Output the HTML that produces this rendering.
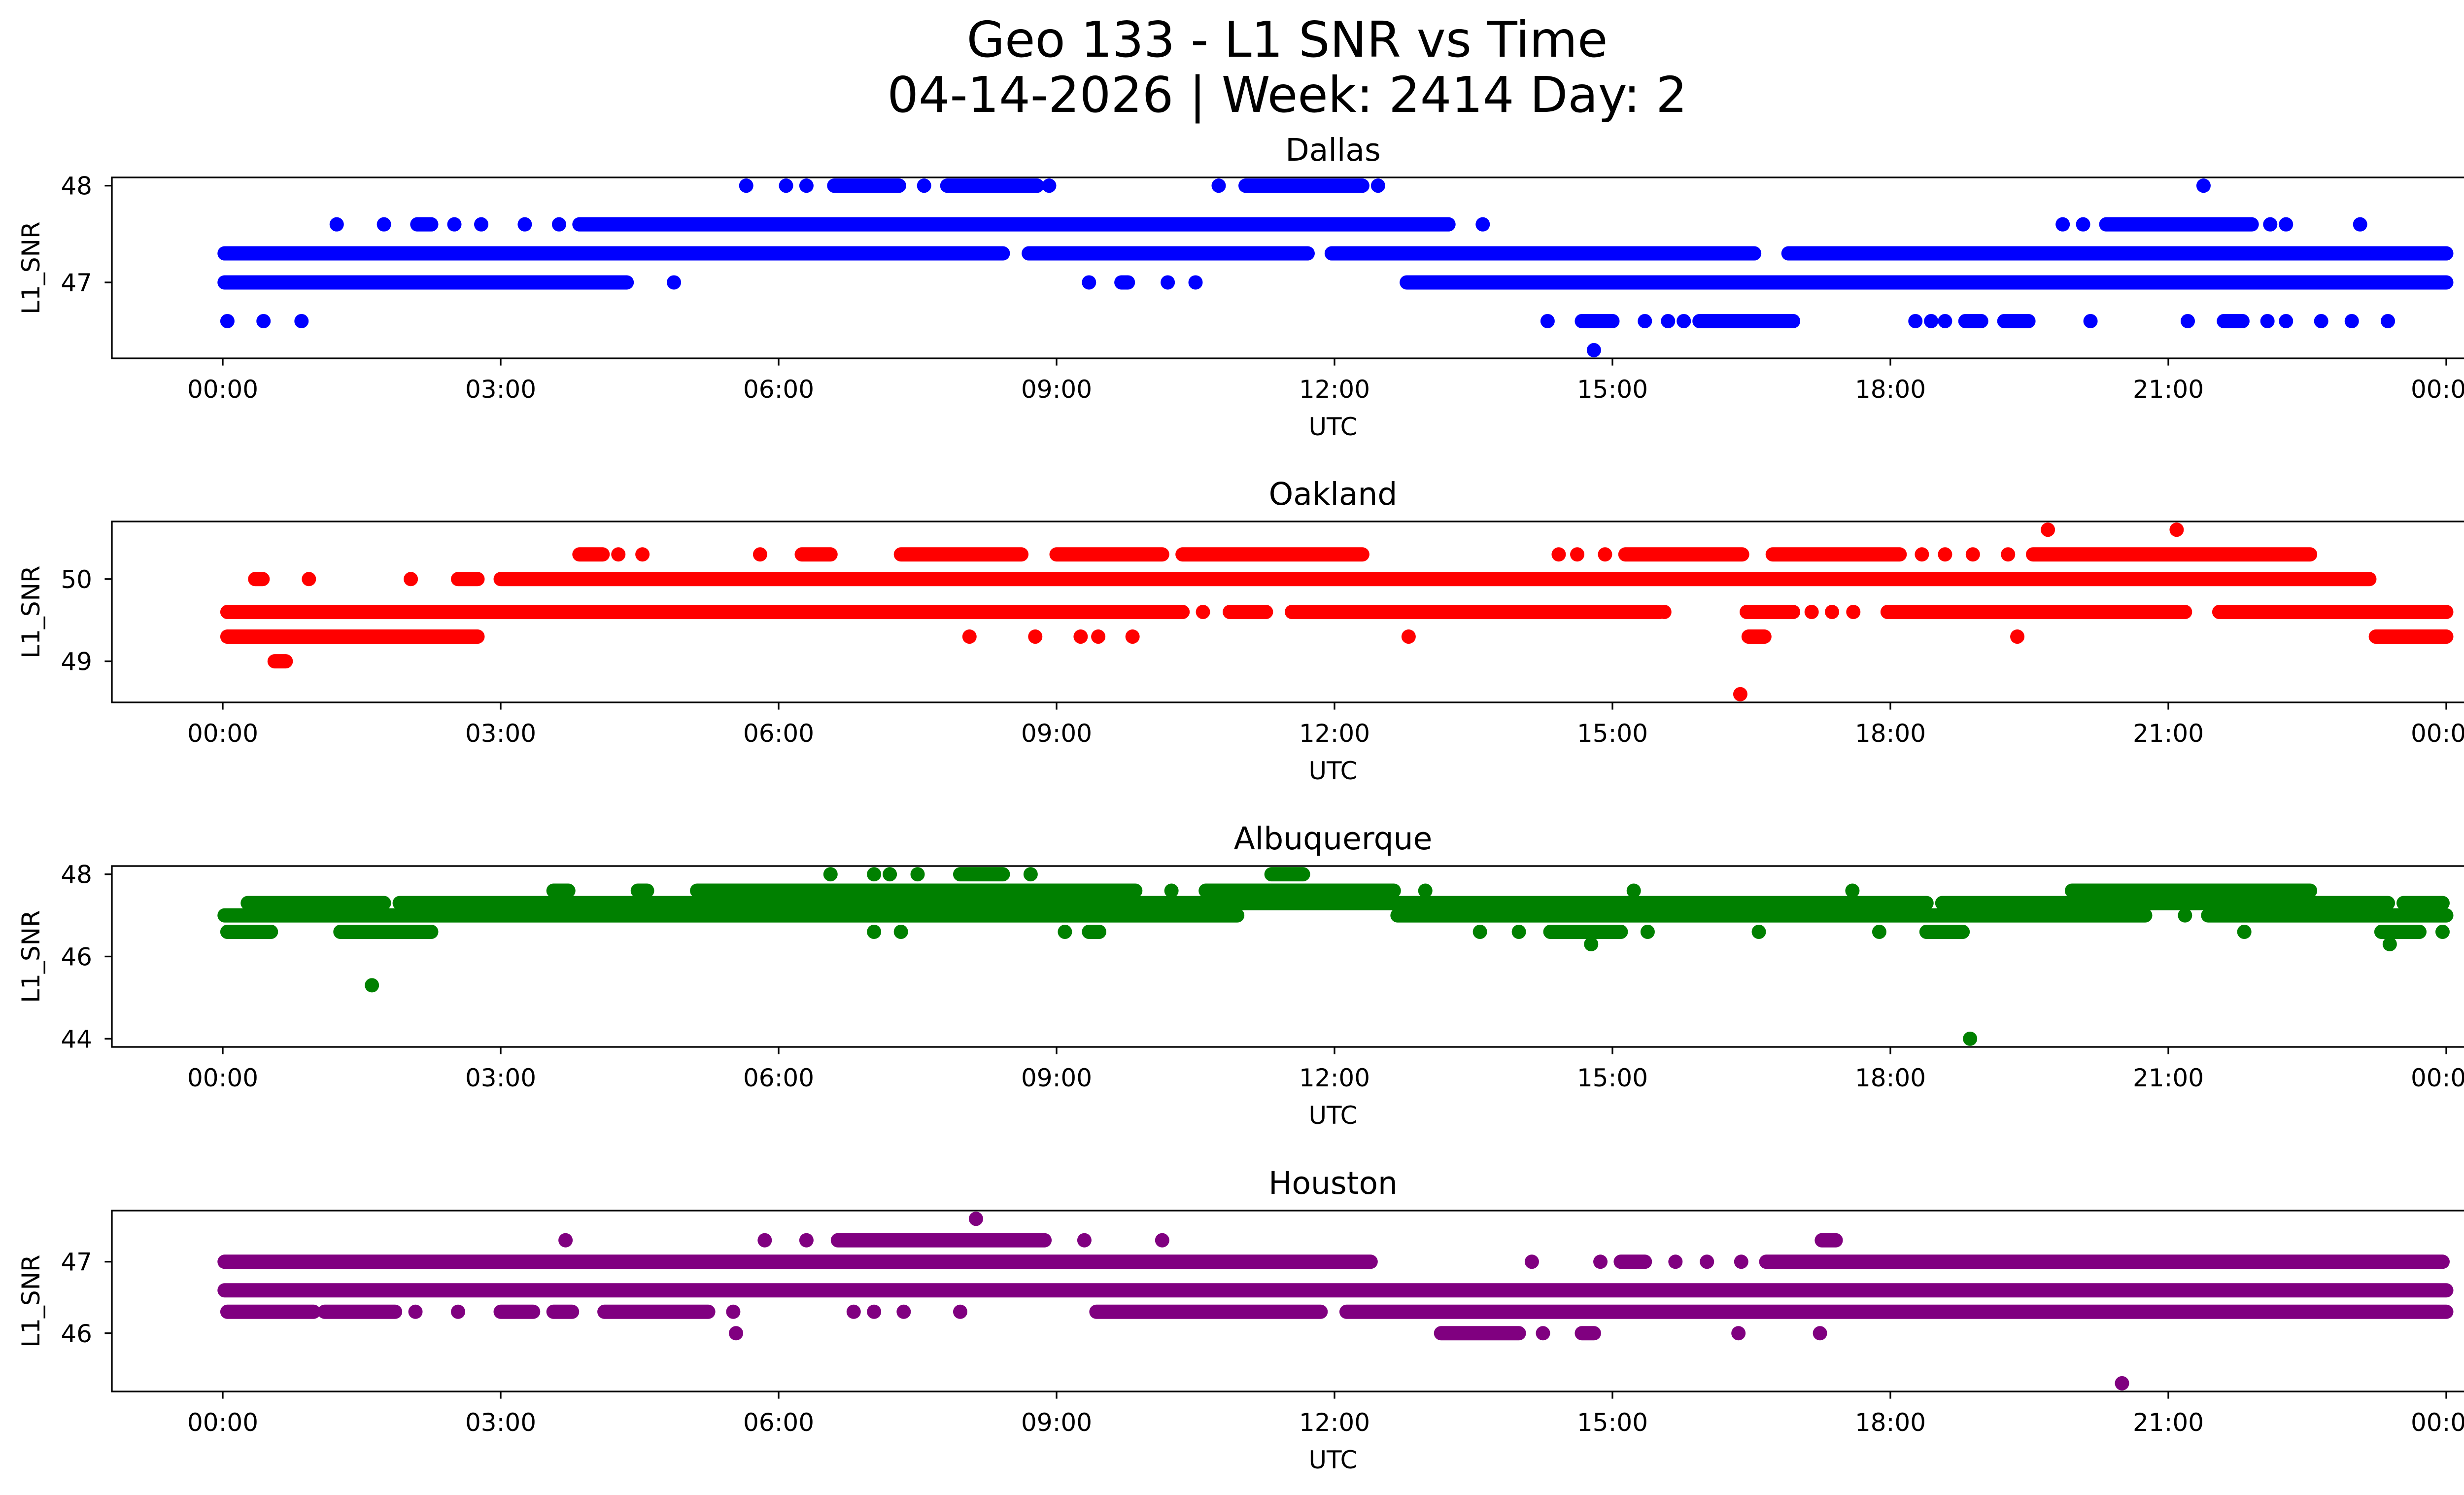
<!DOCTYPE html>
<html><head><meta charset="utf-8"><style>
html,body{margin:0;padding:0;background:#fff;overflow:hidden}
svg{display:block}
text{font-family:"DejaVu Sans","Liberation Sans",sans-serif;fill:#000}
</style></head><body>
<svg id="fig" width="5225" height="3033" viewBox="0 0 5225 3033" xmlns="http://www.w3.org/2000/svg">
<rect width="5225" height="3033" fill="#fff"/>
<text x="2612" y="115" font-size="100" text-anchor="middle">Geo 133 - L1 SNR vs Time</text>
<text x="2612" y="227" font-size="100" text-anchor="middle">04-14-2026 | Week: 2414 Day: 2</text>
</svg>
<script>
const xTickLabels = ["00:00","03:00","06:00","09:00","12:00","15:00","18:00","21:00","00:00"];
const xTickHours = [0,3,6,9,12,15,18,21,24];
const stations = ["Dallas","Oakland","Albuquerque","Houston"];
const colors = ["blue","red","green","purple"];
const yTicksDallas = [47,48];
const yTicksOakland = [49,50];
const yTicksAlbuquerque = [44,46,48];
const yTicksHouston = [46,47];
// runs: [startHour, endHour, L1_SNR]
const dallasRuns = [
[5.65,5.65,48],[6.08,6.08,48],[6.3,6.3,48],[6.6,7.3,48],[7.57,7.57,48],[7.82,8.79,48],[8.92,8.92,48],[10.75,10.75,48],[11.04,12.3,48],[12.47,12.47,48],[21.38,21.38,48],
[1.23,1.23,47.6],[1.74,1.74,47.6],[2.1,2.25,47.6],[2.5,2.5,47.6],[2.79,2.79,47.6],[3.26,3.26,47.6],[3.63,3.63,47.6],[3.85,13.23,47.6],[13.6,13.6,47.6],[19.86,19.86,47.6],[20.08,20.08,47.6],[20.33,21.9,47.6],[22.1,22.1,47.6],[22.27,22.27,47.6],[23.07,23.07,47.6],
[0.02,8.42,47.3],[8.7,11.71,47.3],[11.97,16.53,47.3],[16.9,24,47.3],
[0.02,4.36,47],[4.87,4.87,47],[9.35,9.35,47],[9.7,9.77,47],[10.2,10.2,47],[10.5,10.5,47],[12.78,24,47],
[0.05,0.05,46.6],[0.44,0.44,46.6],[0.85,0.85,46.6],[14.3,14.3,46.6],[14.67,15.0,46.6],[15.35,15.35,46.6],[15.6,15.6,46.6],[15.77,15.77,46.6],[15.94,16.95,46.6],[18.27,18.27,46.6],[18.44,18.44,46.6],[18.59,18.59,46.6],[18.81,18.98,46.6],[19.23,19.49,46.6],[20.16,20.16,46.6],[21.21,21.21,46.6],[21.6,21.8,46.6],[22.07,22.07,46.6],[22.27,22.27,46.6],[22.65,22.65,46.6],[22.98,22.98,46.6],[23.37,23.37,46.6],
[14.8,14.8,46.3]];
const oaklandRuns = [
[19.7,19.7,50.6],[21.09,21.09,50.6],
[3.85,4.1,50.3],[4.27,4.27,50.3],[4.53,4.53,50.3],[5.8,5.8,50.3],[6.25,6.56,50.3],[7.32,8.62,50.3],[9.0,10.14,50.3],[10.36,12.3,50.3],[14.42,14.42,50.3],[14.62,14.62,50.3],[14.92,14.92,50.3],[15.14,16.4,50.3],[16.73,18.1,50.3],[18.34,18.34,50.3],[18.59,18.59,50.3],[18.89,18.89,50.3],[19.27,19.27,50.3],[19.54,22.53,50.3],
[0.35,0.43,50],[0.93,0.93,50],[2.03,2.03,50],[2.54,2.75,50],[3.0,23.17,50],
[0.05,10.36,49.6],[10.58,10.58,49.6],[10.87,11.26,49.6],[11.54,15.51,49.6],[15.56,15.56,49.6],[16.45,16.95,49.6],[17.15,17.15,49.6],[17.37,17.37,49.6],[17.6,17.6,49.6],[17.97,21.18,49.6],[21.55,24,49.6],
[0.05,2.75,49.3],[8.06,8.06,49.3],[8.77,8.77,49.3],[9.26,9.26,49.3],[9.45,9.45,49.3],[9.82,9.82,49.3],[12.8,12.8,49.3],[16.47,16.64,49.3],[19.37,19.37,49.3],[23.24,24,49.3],
[0.56,0.68,49],[16.38,16.38,48.6]];
const albuquerqueRuns = [
[6.56,6.56,48],[7.03,7.03,48],[7.2,7.2,48],[7.5,7.5,48],[7.96,8.42,48],[8.72,8.72,48],[11.32,11.66,48],
[3.57,3.73,47.6],[4.48,4.58,47.6],[5.12,9.85,47.6],[10.24,10.24,47.6],[10.61,12.64,47.6],[12.98,12.98,47.6],[15.23,15.23,47.6],[17.59,17.59,47.6],[19.96,22.53,47.6],
[0.27,1.74,47.3],[1.91,18.39,47.3],[18.56,23.37,47.3],[23.54,23.96,47.3],
[0.02,10.95,47],[12.68,20.75,47],[21.18,21.18,47],[21.43,24,47],
[0.05,0.52,46.6],[1.27,2.25,46.6],[7.03,7.03,46.6],[7.32,7.32,46.6],[9.09,9.09,46.6],[9.35,9.46,46.6],[13.57,13.57,46.6],[13.99,13.99,46.6],[14.33,15.09,46.6],[15.38,15.38,46.6],[16.58,16.58,46.6],[17.88,17.88,46.6],[18.39,18.78,46.6],[21.82,21.82,46.6],[23.3,23.71,46.6],[23.96,23.96,46.6],
[14.77,14.77,46.3],[23.39,23.39,46.3],[1.61,1.61,45.3],[18.86,18.86,44]];
const houstonRuns = [
[8.13,8.13,47.6],
[3.7,3.7,47.3],[5.85,5.85,47.3],[6.3,6.3,47.3],[6.64,8.87,47.3],[9.3,9.3,47.3],[10.14,10.14,47.3],[17.26,17.41,47.3],
[0.02,12.39,47],[14.13,14.13,47],[14.87,14.87,47],[15.09,15.35,47],[15.68,15.68,47],[16.02,16.02,47],[16.39,16.39,47],[16.66,23.96,47],
[0.02,24,46.6],
[0.05,0.98,46.3],[1.1,1.86,46.3],[2.08,2.08,46.3],[2.54,2.54,46.3],[3.0,3.35,46.3],[3.57,3.77,46.3],[4.12,5.24,46.3],[5.51,5.51,46.3],[6.81,6.81,46.3],[7.03,7.03,46.3],[7.35,7.35,46.3],[7.96,7.96,46.3],[9.43,11.85,46.3],[12.13,24,46.3],
[5.54,5.54,46],[13.15,13.99,46],[14.25,14.25,46],[14.67,14.8,46],[16.36,16.36,46],[17.24,17.24,46],
[20.5,20.5,45.3]];

const allRuns = [dallasRuns, oaklandRuns, albuquerqueRuns, houstonRuns];
const allYTicks = [yTicksDallas, yTicksOakland, yTicksAlbuquerque, yTicksHouston];
const panelTops = [360, 1058, 1757, 2456];
const panelH = 367, L = 227, R = 5183, X0 = 452, X24 = 4964, MR = 14.5;
const NS = "http://www.w3.org/2000/svg";
const fig = document.getElementById('fig');
function mk(tag, attrs, parent){const e=document.createElementNS(NS,tag);for(const k in attrs)e.setAttribute(k,attrs[k]);(parent||fig).appendChild(e);return e;}
const xScale = h => X0 + (X24 - X0) * h / 24;

stations.forEach((name, i) => {
  const runs = allRuns[i];
  const top = panelTops[i], bot = top + panelH;
  let mn = Infinity, mx = -Infinity;
  runs.forEach(r => { mn = Math.min(mn, r[2]); mx = Math.max(mx, r[2]); });
  const pad = (mx - mn) * 0.05, lo = mn - pad, hi = mx + pad;
  const yScale = v => bot - (v - lo) / (hi - lo) * panelH;
  const g = mk('g', {});
  
  
  const clipId = 'clip' + i;
  const cp = mk('clipPath', {id: clipId}, g);
  mk('rect', {x: L, y: top, width: R - L, height: panelH}, cp);
  const marks = mk('g', {'clip-path': 'url(#' + clipId + ')'}, g);
  
  
  runs.forEach(r => {
    const ln = mk('line', {x1: xScale(r[0]), x2: xScale(r[1]), y1: yScale(r[2]), y2: yScale(r[2]), stroke: colors[i], 'stroke-width': MR * 2, 'stroke-linecap': 'round'}, marks);
    
    
  });
  const frame = mk('rect', {x: L, y: top, width: R - L, height: panelH, fill: 'none', stroke: '#000', 'stroke-width': 3.3}, g);
  
  
  xTickHours.forEach((h, k) => {
    const x = xScale(h);
    mk('line', {x1: x, x2: x, y1: bot, y2: bot + 14.6, stroke: '#000', 'stroke-width': 3.3}, g);
    const t = mk('text', {x: x, y: bot + 80, 'font-size': 50, 'text-anchor': 'middle'}, g);
    t.textContent = xTickLabels[k];
    
    
  });
  allYTicks[i].forEach(v => {
    const y = yScale(v);
    mk('line', {x1: L - 14.6, x2: L, y1: y, y2: y, stroke: '#000', 'stroke-width': 3.3}, g);
    const t = mk('text', {x: L - 40, y: y + 18, 'font-size': 50, 'text-anchor': 'end'}, g);
    t.textContent = String(v);
    
    
  });
  const tt = mk('text', {x: (L + R) / 2, y: top - 34, 'font-size': 63, 'text-anchor': 'middle'}, g);
  tt.textContent = name;
  
  
  const xl = mk('text', {x: (L + R) / 2, y: bot + 156, 'font-size': 50, 'text-anchor': 'middle'}, g);
  xl.textContent = 'UTC';
  
  
  const cy = (top + bot) / 2;
  const yl = mk('text', {x: cy, y: 80, 'font-size': 50, 'text-anchor': 'middle', transform: 'rotate(-90 80 80) translate(' + (80 - 2*cy) + ' 0)'}, g);
  yl.setAttribute('x', 160 - cy);
  yl.setAttribute('transform', 'rotate(-90 80 80)');
  yl.textContent = 'L1_SNR';
  
  
});
</script>
</body></html>
